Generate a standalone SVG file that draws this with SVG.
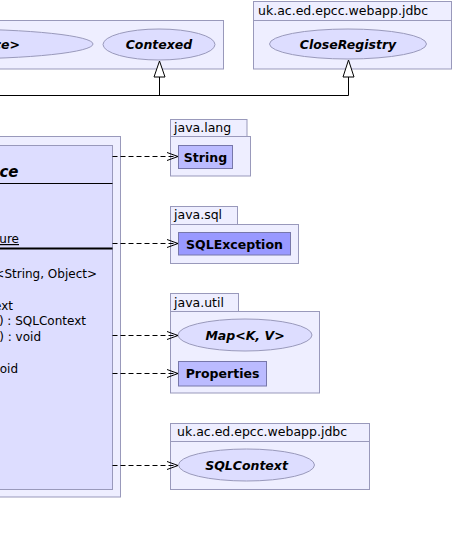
<svg xmlns="http://www.w3.org/2000/svg" width="455" height="535" viewBox="0 0 455 535">
<defs>
<marker id="open" viewBox="0 0 12 10" refX="11" refY="5" markerWidth="12" markerHeight="10" markerUnits="userSpaceOnUse" orient="auto">
<path d="M0,1 L11,5 L0,9" fill="none" stroke="#000" stroke-width="1"/>
</marker>
</defs>
<style>
.pkg{fill:#eeeeff;stroke:#9999bb;stroke-width:1}
.cls{fill:#ddddff;stroke:#9999bb;stroke-width:1}
.lt{fill:#bbbbff;stroke:#7777aa;stroke-width:1}
.dk{fill:#9999ff;stroke:#7777aa;stroke-width:1}
.lbl{font-family:"DejaVu Sans",sans-serif;font-size:12.5px;fill:#000}
.mem{font-family:"DejaVu Sans",sans-serif;font-size:12px;fill:#000}
.bi{font-family:"DejaVu Sans",sans-serif;font-size:12.5px;font-weight:bold;font-style:italic;fill:#000}
.b{font-family:"DejaVu Sans",sans-serif;font-size:12.5px;font-weight:bold;fill:#000}
.dash{fill:none;stroke:#000;stroke-width:1;stroke-dasharray:5,3}
.solid{fill:none;stroke:#000;stroke-width:1}
</style>

<g id="pkg-left">
<rect class="pkg" x="-10" y="20.5" width="233.5" height="48.5"/>
<ellipse class="cls" cx="-48" cy="44" rx="141" ry="15"/>
<text class="bi" x="20" y="49" text-anchor="end">ce&gt;</text>
<ellipse class="cls" cx="159" cy="44.5" rx="56" ry="15.5"/>
<text class="bi" x="159" y="49" text-anchor="middle">Contexed</text>
</g>

<g id="pkg-jdbc-top">
<rect class="pkg" x="253.5" y="1.5" width="198" height="67.5"/>
<line x1="253.5" y1="20.5" x2="451.5" y2="20.5" stroke="#9999bb"/>
<text class="lbl" x="258" y="15">uk.ac.ed.epcc.webapp.jdbc</text>
<ellipse class="cls" cx="348" cy="44" rx="78.5" ry="15"/>
<text class="bi" x="348" y="49" text-anchor="middle">CloseRegistry</text>
</g>

<g id="main-class">
<rect class="pkg" x="-10" y="136.5" width="130.5" height="360.5"/>
<rect class="cls" x="-5" y="145.5" width="117.5" height="344"/>
<text class="bi" x="18.5" y="177" text-anchor="end" style="font-size:15px">ce</text>
<line x1="-5" y1="183.5" x2="112.5" y2="183.5" stroke="#000" stroke-width="1.2"/>
<text class="mem" x="19" y="243" text-anchor="end" text-decoration="underline">ure</text>
<line x1="-5" y1="248.5" x2="112.5" y2="248.5" stroke="#000" stroke-width="2"/>
<text class="mem" x="97" y="278" text-anchor="end">&lt;String, Object&gt;</text>
<text class="mem" x="13" y="310" text-anchor="end">ext</text>
<text class="mem" x="86" y="325" text-anchor="end">) : SQLContext</text>
<text class="mem" x="41" y="341" text-anchor="end">) : void</text>
<text class="mem" x="18" y="373" text-anchor="end">oid</text>
</g>

<g id="pkg-java-lang">
<rect class="pkg" x="170.5" y="119.5" width="76.5" height="17"/>
<rect class="pkg" x="170.5" y="136.5" width="80" height="39.5"/>
<text class="lbl" x="174" y="132">java.lang</text>
<rect class="lt" x="178.5" y="145.5" width="54" height="23"/>
<text class="b" x="205.5" y="161.5" text-anchor="middle">String</text>
</g>

<g id="pkg-java-sql">
<rect class="pkg" x="170.5" y="206.5" width="67" height="18"/>
<rect class="pkg" x="170.5" y="224.5" width="128" height="39"/>
<text class="lbl" x="174" y="219">java.sql</text>
<rect class="dk" x="178.5" y="232.5" width="112" height="22.5"/>
<text class="b" x="234.5" y="248.5" text-anchor="middle">SQLException</text>
</g>

<g id="pkg-java-util">
<rect class="pkg" x="170.5" y="293.5" width="68" height="18"/>
<rect class="pkg" x="170.5" y="311.5" width="149" height="81.5"/>
<text class="lbl" x="174" y="306.5">java.util</text>
<ellipse class="cls" cx="245" cy="335" rx="67" ry="16"/>
<text class="bi" x="245" y="339.5" text-anchor="middle">Map&lt;K, V&gt;</text>
<rect class="lt" x="178.5" y="361.5" width="88" height="24.5"/>
<text class="b" x="222.5" y="378" text-anchor="middle">Properties</text>
</g>

<g id="pkg-jdbc-bottom">
<rect class="pkg" x="170.5" y="423.5" width="199" height="66"/>
<line x1="170.5" y1="441.5" x2="369.5" y2="441.5" stroke="#9999bb"/>
<text class="lbl" x="177" y="436">uk.ac.ed.epcc.webapp.jdbc</text>
<ellipse class="cls" cx="246.5" cy="465" rx="68" ry="16"/>
<text class="bi" x="246.5" y="469.5" text-anchor="middle">SQLContext</text>
</g>

<g id="connectors">
<polyline class="solid" points="0,95.5 348.5,95.5"/>
<line class="solid" x1="159.5" y1="95.5" x2="159.5" y2="77"/>
<polygon points="159.5,61 154,77 165,77" fill="#fff" stroke="#000" stroke-width="1"/>
<line class="solid" x1="348.5" y1="95.5" x2="348.5" y2="77"/>
<polygon points="348.5,60 343,77 354,77" fill="#fff" stroke="#000" stroke-width="1"/>
<line class="dash" x1="112.5" y1="156.5" x2="178" y2="156.5" marker-end="url(#open)"/>
<line class="dash" x1="112.5" y1="243.5" x2="178" y2="243.5" marker-end="url(#open)"/>
<line class="dash" x1="112.5" y1="335.5" x2="178" y2="335.5" marker-end="url(#open)"/>
<line class="dash" x1="112.5" y1="373.5" x2="178" y2="373.5" marker-end="url(#open)"/>
<line class="dash" x1="112.5" y1="465.5" x2="178" y2="465.5" marker-end="url(#open)"/>
</g>
</svg>
